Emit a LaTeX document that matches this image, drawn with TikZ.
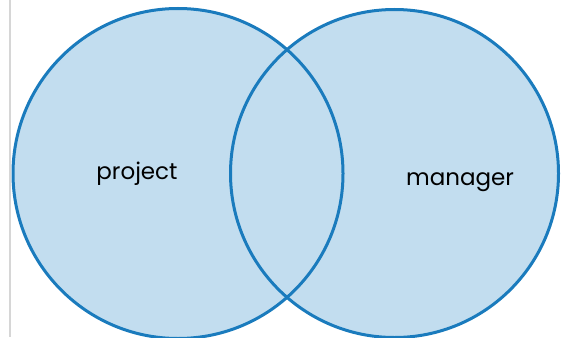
\documentclass[tikz,border=0pt]{standalone}
\usepackage{fontspec}
\setmainfont{Poppins}
\definecolor{vfill}{HTML}{C2DDEF}
\definecolor{vline}{HTML}{1A7BBD}
\definecolor{vgray}{HTML}{D6D6D6}
\begin{document}
\begin{tikzpicture}[x=1pt,y=-1pt,
  setfill/.style={fill=vfill,draw=none},
  setline/.style={draw=vline,line width=3pt},
  lbl/.style={font=\fontsize{23}{27}\selectfont,text=black,inner sep=0pt,anchor=base}]
\useasboundingbox (0,0) rectangle (569,337);
\fill[white] (0,0) rectangle (569,337);
\draw[vgray,line width=2pt] (10,0) -- (10,337);
\coordinate (A) at (178,173.5);
\coordinate (B) at (394.5,173.5);
\fill[setfill] (A) circle (165);
\fill[setfill] (B) circle (164);
\draw[setline] (A) circle (165);
\draw[setline] (B) circle (164);
\node[lbl] (p) at (137,179.5) {project};
\node[lbl] (m) at (460,185) {manager};
\end{tikzpicture}
\end{document}
